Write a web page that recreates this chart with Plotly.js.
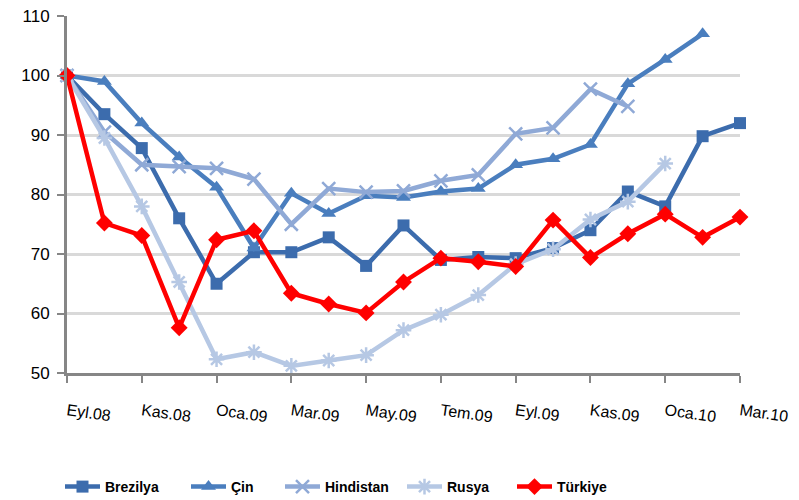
<!DOCTYPE html>
<html>
<head>
<meta charset="utf-8">
<script src="https://cdn.plot.ly/plotly-3.0.1.min.js"></script>
<style>html,body{margin:0;padding:0;background:#fff;}#chart{width:799px;height:500px;}</style>
</head>
<body>
<div id="chart"></div>
<script>
const months = ["Eyl.08","Eki.08","Kas.08","Ara.08","Oca.09","Şub.09","Mar.09","Nis.09","May.09","Haz.09","Tem.09","Ağu.09","Eyl.09","Eki.09","Kas.09","Ara.09","Oca.10","Şub.10","Mar.10"];
const tickLabels = ["Eyl.08","Kas.08","Oca.09","Mar.09","May.09","Tem.09","Eyl.09","Kas.09","Oca.10","Mar.10"];
const brezilya = [100, 93.5, 87.8, 76, 65, 70.3, 70.3, 72.8, 68, 74.8, 69, 69.5, 69.3, 71, 74, 80.5, 78, 89.8, 92];
const cin = [100, 99, 92, 86.3, 81.2, 71, 80.2, 76.8, 79.8, 79.5, 80.5, 81, 85, 86, 88.4, 98.6, 102.7, 107];
const hindistan = [100, 90.5, 85, 84.7, 84.4, 82.6, 75, 81, 80.4, 80.6, 82.3, 83.3, 90.2, 91.2, 97.7, 94.8];
const rusya = [100, 89.5, 78, 65.3, 52.3, 53.5, 51.2, 52.1, 53, 57.2, 59.8, 63.1, 68.3, 70.8, 75.8, 78.8, 85.2];
const turkiye = [100, 75.2, 73.1, 57.6, 72.4, 73.9, 63.4, 61.6, 60.1, 65.3, 69.3, 68.7, 67.9, 75.7, 69.4, 73.4, 76.7, 72.8, 76.2];

function tr(name, vals, color, symbol, msize, mline, legendId) {
  return {
    type: 'scatter', mode: 'lines+markers', name: name, legend: legendId,
    x: months.slice(0, vals.length), y: vals,
    line: {color: color, width: 4.5},
    marker: {symbol: symbol, size: msize, color: color, line: {color: color, width: mline}},
    cliponaxis: false
  };
}
const data = [
  tr('Brezilya', brezilya, '#3c6cad', 'square', 12, 0, 'legend'),
  tr('Çin', cin, '#4a7ebe', 'triangle-up', 13, 0, 'legend2'),
  tr('Hindistan', hindistan, '#8fa9d6', 'x-thin-open', 13, 2.5, 'legend3'),
  tr('Rusya', rusya, '#b6c8e4', 'asterisk-open', 13, 2.5, 'legend4'),
  tr('Türkiye', turkiye, '#ff0000', 'diamond', 13, 0, 'legend5')
];
function leg(px) {
  return {
    orientation: 'h', xref: 'container', yref: 'container',
    x: px / 799, y: 0.026, xanchor: 'left', yanchor: 'middle',
    font: {size: 14, color: '#000', family: 'Liberation Sans Narrow, Liberation Sans, sans-serif', weight: 'bold'},
    itemwidth: 35, bgcolor: 'rgba(0,0,0,0)'
  };
}
const layout = {
  width: 799, height: 500,
  margin: {l: 67, r: 59, t: 16, b: 127},
  paper_bgcolor: '#fff', plot_bgcolor: '#fff',
  font: {family: 'Liberation Sans, Arial, sans-serif', size: 14, color: '#000'},
  showlegend: true,
  xaxis: {
    type: 'category', categoryorder: 'array', categoryarray: months,
    range: [0, 18],
    tickmode: 'array', tickvals: tickLabels, ticktext: tickLabels,
    tickangle: 8, ticks: 'outside', ticklen: 7, tickwidth: 2, tickcolor: '#868686',
    showline: true, linecolor: '#868686', linewidth: 3,
    showgrid: false, zeroline: false,
    ticklabelstandoff: 13,
    tickfont: {size: 16, color: '#000'}
  },
  yaxis: {
    range: [50, 110], dtick: 10, tick0: 50,
    ticks: 'outside', ticklen: 7, tickwidth: 2, tickcolor: '#868686',
    showline: true, linecolor: '#868686', linewidth: 3,
    showgrid: true, gridcolor: '#d9d9d9', gridwidth: 3,
    zeroline: false,
    ticklabelstandoff: 4,
    tickfont: {size: 17, color: '#000'}
  },
  legend: leg(60),
  legend2: leg(186),
  legend3: leg(280),
  legend4: leg(402),
  legend5: leg(512)
};
Plotly.newPlot('chart', data, layout, {displayModeBar: false, staticPlot: true});
</script>
</body>
</html>
